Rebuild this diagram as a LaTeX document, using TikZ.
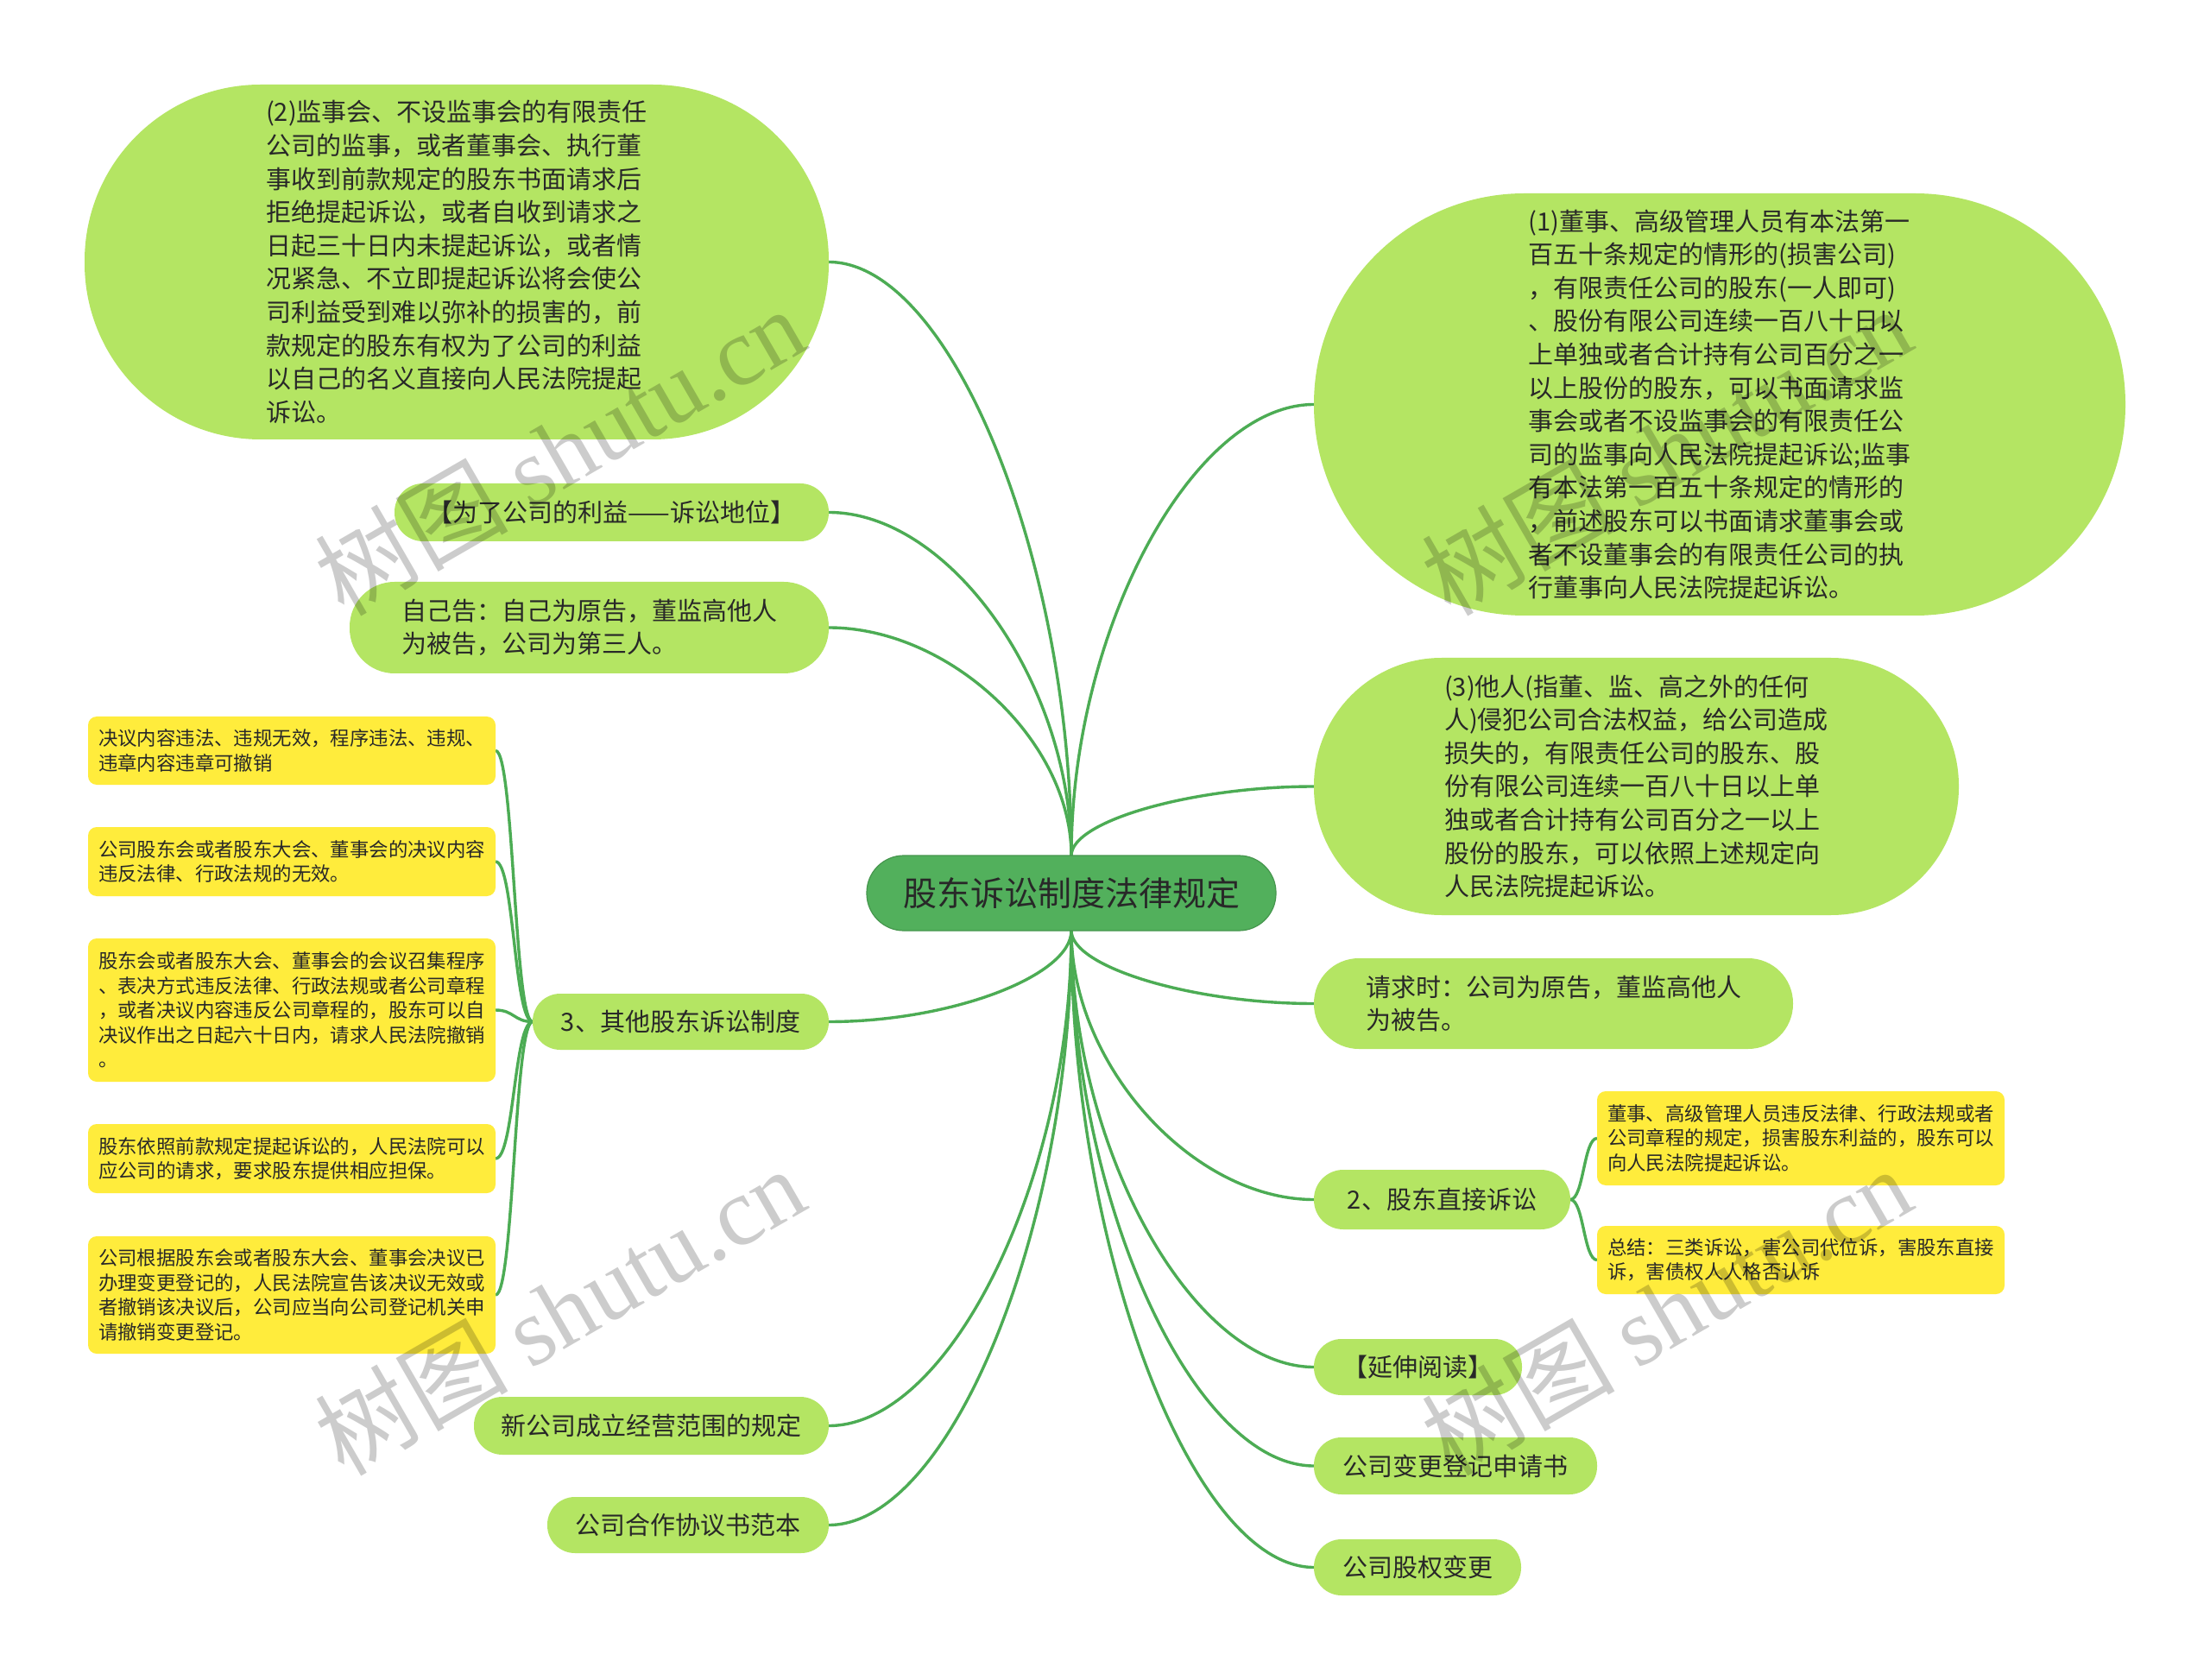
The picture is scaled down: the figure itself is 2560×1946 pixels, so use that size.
\documentclass[tikz,border=0pt]{standalone}
\usepackage{fontspec}
\setmainfont{Noto Sans CJK SC}
\newfontfamily\wmserif{Liberation Serif}
\usetikzlibrary{calc,backgrounds}
\definecolor{lgreen}{RGB}{180,229,99}
\definecolor{rgreen}{RGB}{82,176,92}
\definecolor{egreen}{RGB}{76,172,84}
\definecolor{yel}{RGB}{255,236,60}
\definecolor{txt}{RGB}{40,40,40}
\newcommand{\mmedge}[2]{\draw[conn] let \p1=(#1), \p2=(#2) in (\p1) .. controls (\x1,{0.5*(\y1+\y2)}) and ({0.5*(\x1+\x2)},\y2) .. (\p2);}
\newcommand{\brkedge}[2]{\draw[conn] let \p1=(#1), \p2=(#2) in (\p1) .. controls ({0.5*(\x1+\x2)},\y1) and ({0.5*(\x1+\x2)},\y2) .. (\p2);}
\begin{document}
\begin{tikzpicture}[x=0.5pt,y=-0.5pt,
 every node/.style={inner sep=0pt, outer sep=0pt, text=txt},
 gnode/.style={fill=lgreen, align=left, font=\fontsize{14.5}{19.3}\selectfont},
 ynode/.style={fill=yel, align=left, rounded corners=5pt, minimum width=236pt, font=\fontsize{11.2}{14.2}\selectfont},
 conn/.style={draw=egreen, line width=1.7pt},
 wm/.style={rotate=30, text=black, opacity=0.2, font=\fontsize{56}{56}\selectfont}]
\useasboundingbox (0,0) rectangle (2560,1946);

% root
\node[fill=rgreen, draw=rgreen!85!black, line width=0.6pt, minimum width=237pt, minimum height=43.5pt, rounded corners=21.5pt, font=\fontsize{19.5}{23}\selectfont] (root) at (1241,1034.5) {股东诉讼制度法律规定};

% left branches
\node[gnode, minimum width=431pt, minimum height=205.5pt, rounded corners=102pt] (n2) at (529,303.5) {(2)监事会、不设监事会的有限责任\\公司的监事，或者董事会、执行董\\事收到前款规定的股东书面请求后\\拒绝提起诉讼，或者自收到请求之\\日起三十日内未提起诉讼，或者情\\况紧急、不立即提起诉讼将会使公\\司利益受到难以弥补的损害的，前\\款规定的股东有权为了公司的利益\\以自己的名义直接向人民法院提起\\诉讼。};
\node[gnode, minimum width=251.5pt, minimum height=33.5pt, rounded corners=16.5pt] (forco) at (708.5,593.5) {【为了公司的利益——诉讼地位】};
\node[gnode, minimum width=277.5pt, minimum height=53pt, rounded corners=26pt] (ziji) at (682.5,727) {自己告：自己为原告，董监高他人\\为被告，公司为第三人。};
\node[gnode, minimum width=171.5pt, minimum height=32.5pt, rounded corners=16pt] (other3) at (788.5,1183.5) {3、其他股东诉讼制度};
\node[gnode, minimum width=205.5pt, minimum height=33.5pt, rounded corners=16.5pt] (xgs) at (754.5,1651.5) {新公司成立经营范围的规定};
\node[gnode, minimum width=163pt, minimum height=32.5pt, rounded corners=16pt] (hezuo) at (797,1766.5) {公司合作协议书范本};

% left yellow
\node[ynode, minimum height=39.5pt] (yl1) at (338,869.5) {决议内容违法、违规无效，程序违法、违规、\\违章内容违章可撤销};
\node[ynode, minimum height=40pt] (yl2) at (338,998) {公司股东会或者股东大会、董事会的决议内容\\违反法律、行政法规的无效。};
\node[ynode, minimum height=83pt] (yl3) at (338,1170) {股东会或者股东大会、董事会的会议召集程序\\、表决方式违反法律、行政法规或者公司章程\\，或者决议内容违反公司章程的，股东可以自\\决议作出之日起六十日内，请求人民法院撤销\\。};
\node[ynode, minimum height=40pt] (yl4) at (338,1342) {股东依照前款规定提起诉讼的，人民法院可以\\应公司的请求，要求股东提供相应担保。};
\node[ynode, minimum height=68pt] (yl5) at (338,1500) {公司根据股东会或者股东大会、董事会决议已\\办理变更登记的，人民法院宣告该决议无效或\\者撤销该决议后，公司应当向公司登记机关申\\请撤销变更登记。};

% right branches
\node[gnode, minimum width=470pt, minimum height=244.5pt, rounded corners=122pt] (n1) at (1992,468.5) {(1)董事、高级管理人员有本法第一\\百五十条规定的情形的(损害公司)\\，有限责任公司的股东(一人即可)\\、股份有限公司连续一百八十日以\\上单独或者合计持有公司百分之一\\以上股份的股东，可以书面请求监\\事会或者不设监事会的有限责任公\\司的监事向人民法院提起诉讼;监事\\有本法第一百五十条规定的情形的\\，前述股东可以书面请求董事会或\\者不设董事会的有限责任公司的执\\行董事向人民法院提起诉讼。};
\node[gnode, minimum width=373.5pt, minimum height=149pt, rounded corners=74pt] (n3) at (1895.5,911) {(3)他人(指董、监、高之外的任何\\人)侵犯公司合法权益，给公司造成\\损失的，有限责任公司的股东、股\\份有限公司连续一百八十日以上单\\独或者合计持有公司百分之一以上\\股份的股东，可以依照上述规定向\\人民法院提起诉讼。};
\node[gnode, minimum width=277.5pt, minimum height=52.5pt, rounded corners=26pt] (qq) at (1799.5,1162.5) {请求时：公司为原告，董监高他人\\为被告。};
\node[gnode, minimum width=148.5pt, minimum height=34.5pt, rounded corners=17pt] (direct) at (1670.5,1389.5) {2、股东直接诉讼};
\node[gnode, minimum width=120.5pt, minimum height=32.5pt, rounded corners=16pt] (ys) at (1642.5,1583.5) {【延伸阅读】};
\node[gnode, minimum width=164pt, minimum height=33pt, rounded corners=16pt] (bg) at (1686,1698) {公司变更登记申请书};
\node[gnode, minimum width=120pt, minimum height=32.5pt, rounded corners=16pt] (gq) at (1642,1815.5) {公司股权变更};

% right yellow
\node[ynode, minimum height=54.5pt] (yr1) at (2086,1318.5) {董事、高级管理人员违反法律、行政法规或者\\公司章程的规定，损害股东利益的，股东可以\\向人民法院提起诉讼。};
\node[ynode, minimum height=39.5pt] (yr2) at (2086,1459.5) {总结：三类诉讼，害公司代位诉，害股东直接\\诉，害债权人人格否认诉};

\begin{scope}[on background layer]
\fill[white] (0,0) rectangle (2560,1946);
\mmedge{root.north}{n2.east}
\mmedge{root.north}{forco.east}
\mmedge{root.north}{ziji.east}
\mmedge{root.north}{n1.west}
\mmedge{root.north}{n3.west}
\mmedge{root.south}{other3.east}
\mmedge{root.south}{xgs.east}
\mmedge{root.south}{hezuo.east}
\mmedge{root.south}{qq.west}
\mmedge{root.south}{direct.west}
\mmedge{root.south}{ys.west}
\mmedge{root.south}{bg.west}
\mmedge{root.south}{gq.west}
\brkedge{other3.west}{yl1.east}
\brkedge{other3.west}{yl2.east}
\brkedge{other3.west}{yl3.east}
\brkedge{other3.west}{yl4.east}
\brkedge{other3.west}{yl5.east}
\brkedge{direct.east}{yr1.west}
\brkedge{direct.east}{yr2.west}
\end{scope}

% watermarks
\node[wm] (wm1) at (648,522) {树图 {\wmserif shutu.cn}};
\node[wm] (wm2) at (1930,522) {树图 {\wmserif shutu.cn}};
\node[wm] (wm3) at (648,1518) {树图 {\wmserif shutu.cn}};
\node[wm] (wm4) at (1930,1518) {树图 {\wmserif shutu.cn}};
\end{tikzpicture}
\end{document}
